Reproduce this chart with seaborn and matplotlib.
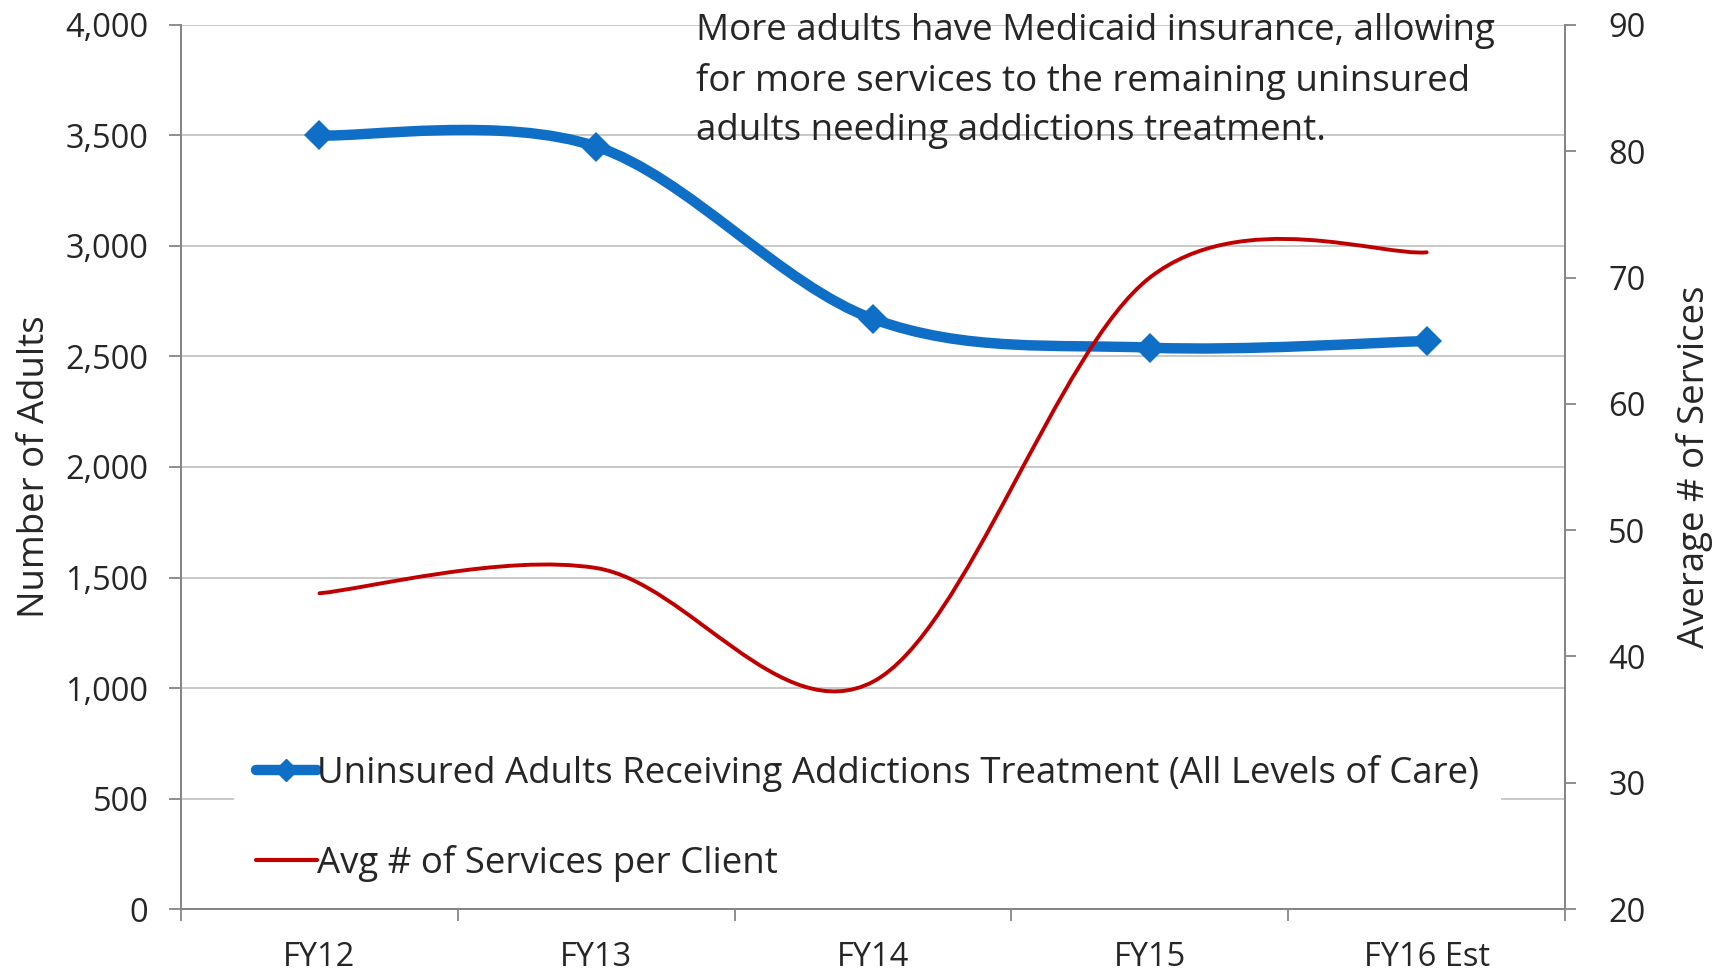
import numpy as np
import matplotlib
matplotlib.use("Agg")
import matplotlib.pyplot as plt
import seaborn as sns
from matplotlib.path import Path
from matplotlib.patches import PathPatch
from matplotlib.lines import Line2D

# chart data
years = ["FY12", "FY13", "FY14", "FY15", "FY16 Est"]
adults = [3500, 3450, 2670, 2540, 2570]
avg_services = [45, 47, 38, 70, 72]
left_ticks = [0, 500, 1000, 1500, 2000, 2500, 3000, 3500, 4000]
right_ticks = [20, 30, 40, 50, 60, 70, 80, 90]

note = ("More adults have Medicaid insurance, allowing\n"
        "for more services to the remaining uninsured\n"
        "adults needing addictions treatment.")
label_adults = "Uninsured Adults Receiving Addictions Treatment (All Levels of Care)"
label_avg = "Avg # of Services per Client"

BLUE = "#0F6FC6"
RED = "#C00000"
GRAY = "#868686"
GRID = "#BFBFBF"

sns.set_style("white")
plt.rcParams['font.family'] = ["Open Sans", "DejaVu Sans"]


def smooth_path(xs, ys):
    # Excel-style smoothed line: Catmull-Rom as cubic Bezier segments
    pts = np.column_stack([xs, ys]).astype(float)
    n = len(pts)
    verts = [pts[0]]
    codes = [Path.MOVETO]
    for i in range(n - 1):
        p0 = pts[max(i - 1, 0)]
        p1 = pts[i]
        p2 = pts[i + 1]
        p3 = pts[min(i + 2, n - 1)]
        verts += [p1 + (p2 - p0) / 6, p2 - (p3 - p1) / 6, p2]
        codes += [Path.CURVE4] * 3
    return Path(verts, codes)


fig = plt.figure(figsize=(17.21, 9.72), dpi=100)
ax = fig.add_axes([0.1052, 0.0648, 0.8042, 0.9095])
ax2 = ax.twinx()

xpos = np.arange(len(years))

# blue series on left axis
ax.add_patch(PathPatch(smooth_path(xpos, adults), fill=False, edgecolor=BLUE,
                       lw=7.5, capstyle="round", joinstyle="round", zorder=3))
sns.lineplot(x=xpos, y=adults, ax=ax, color=BLUE, marker="D", markersize=15,
             markeredgewidth=0, linestyle="", zorder=4)

# red series on right axis
ax2.add_patch(PathPatch(smooth_path(xpos, avg_services), fill=False, edgecolor=RED,
                        lw=2.8, capstyle="round", zorder=3))

ax.set_xlim(-0.5, len(years) - 0.5)
ax.set_ylim(0, 4000)
ax2.set_ylim(20, 90)

ax.set_xticks(xpos)
ax.set_xticklabels(years, fontsize=23.5)
ax.set_xticks(np.arange(-0.5, len(years)), minor=True)
ax.tick_params(axis="x", which="major", bottom=True, length=0, pad=23)
ax.tick_params(axis="x", which="minor", bottom=True, length=8.5, width=1.3, color=GRAY)

ax.set_yticks(left_ticks)
ax.set_yticklabels([f"{v:,}" for v in left_ticks])
ax.tick_params(axis="y", left=True, length=8.5, width=1.3, color=GRAY, pad=15,
               labelsize=23.5)
ax2.set_yticks(right_ticks)
ax2.tick_params(axis="y", right=True, length=8, width=1.3, color=GRAY, pad=23,
                labelsize=23.5)

ax.grid(axis="y", color=GRID, lw=1.2)
ax.set_axisbelow(True)

for a in (ax, ax2):
    a.spines["top"].set_visible(False)
    for s in ("left", "right", "bottom"):
        a.spines[s].set_color(GRAY)
        a.spines[s].set_linewidth(1.4)

ax.set_xlabel("")
ax.set_ylabel("Number of Adults", fontsize=26.4)
ax.yaxis.set_label_coords(-0.0925, 0.5)
ax2.set_ylabel("Average # of Services", fontsize=26.4)
ax2.yaxis.set_label_coords(1.080, 0.5)

fig.text(0.4044, 0.9865, note, ha="left", va="top", fontsize=26.5,
         linespacing=1.48)

handles = [
    Line2D([], [], color=BLUE, lw=7.5, marker="D", markersize=11, solid_capstyle="round"),
    Line2D([], [], color=RED, lw=3, solid_capstyle="round"),
]
leg = ax2.legend(handles, [label_adults, label_avg], loc="upper left",
                 bbox_to_anchor=(0.136, 0.246), bbox_transform=fig.transFigure,
                 frameon=True, facecolor="white", edgecolor="none", framealpha=1,
                 fancybox=False, borderaxespad=0, borderpad=0.6,
                 handlelength=1.65, handletextpad=0.0, labelspacing=1.45,
                 prop={"size": 26.4})

fig.savefig("out.png", dpi=100)
